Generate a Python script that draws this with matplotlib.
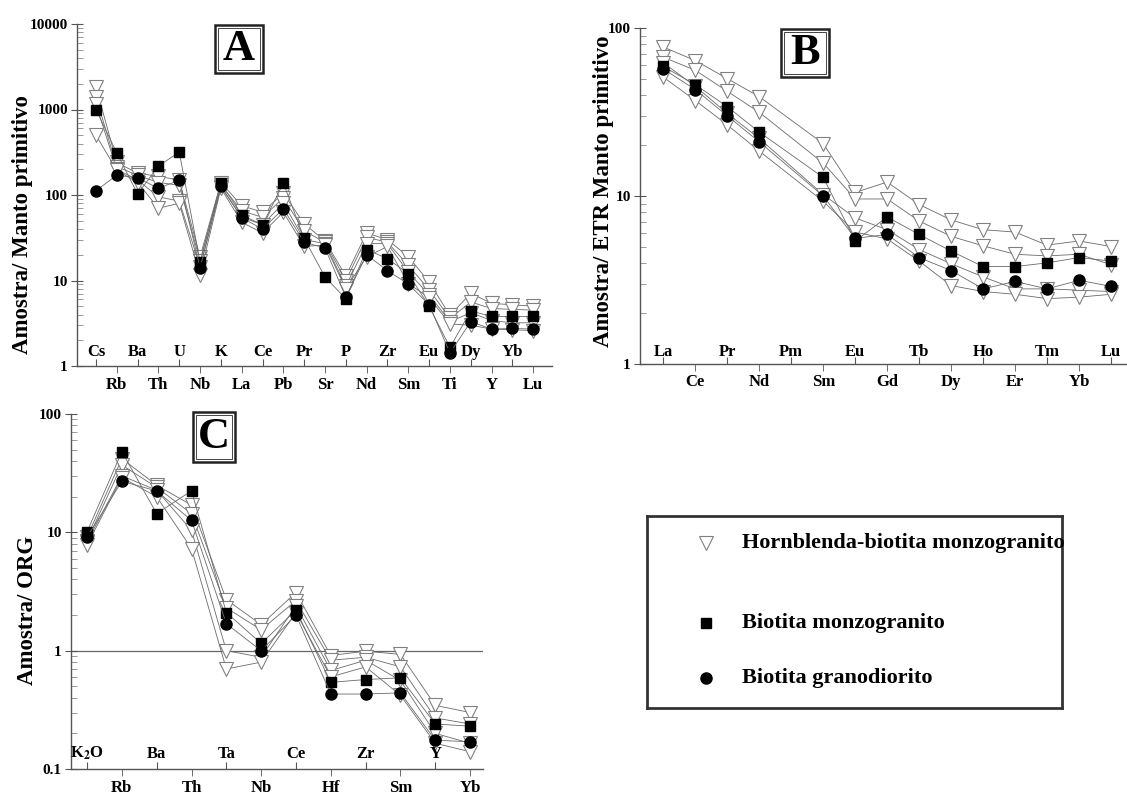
import numpy as np
import matplotlib.pyplot as plt
from matplotlib.ticker import FixedLocator, FixedFormatter, LogLocator, NullFormatter
from matplotlib.patches import Rectangle
from matplotlib.lines import Line2D

plt.rcParams['font.family'] = 'Liberation Serif'
plt.rcParams['font.weight'] = 'bold'
plt.rcParams['mathtext.fontset'] = 'stix'

# panel A - spider diagram normalised to primitive mantle
a_elem = ['Cs', 'Rb', 'Ba', 'Th', 'U', 'Nb', 'K', 'La', 'Ce', 'Pb', 'Pr', 'Sr', 'P', 'Nd',
          'Zr', 'Sm', 'Eu', 'Ti', 'Dy', 'Y', 'Yb', 'Lu']
a_sq = [1000, 310, 103, 218, 318, 16.5, 138, 58, 45, 138, 31, 11, 6.1, 23, 18, 12, 5.0, 1.65, 4.4, 3.8, 3.8, 3.8]
a_ci = [112, 171, 158, 120, 149, 14, 128, 54, 40, 69, 28, 24, 6.4, 20, 13, 9.1, 5.2, 1.42, 3.3, 2.7, 2.75, 2.7]
a_t1 = [1850, 240, 180, 165, 150, 19, 140, 75, 63, 105, 46, 29, 11.3, 36, 30, 19, 9.6, 3.9, 7.1, 5.4, 5.2, 5.0]
a_t2 = [1400, 215, 170, 140, 130, 17, 132, 65, 55, 92, 38, 28, 10, 32, 28, 15, 7.8, 3.6, 5.6, 4.7, 4.6, 4.5]
a_t3 = [1150, 200, 150, 95, 85, 14.5, 125, 55, 45, 80, 30, 27, 8.6, 27, 27, 12.5, 6.8, 3.3, 4.2, 3.4, 3.2, 3.2]
a_t4 = [500, 195, 140, 70, 80, 11.5, 120, 48, 36, 63, 25, 26, 8.0, 19, 25, 9.2, 6.3, 3.1, 3.0, 2.7, 2.65, 2.6]

# panel B - REE (Pm missing)
b_elem = ['La', 'Ce', 'Pr', 'Nd', 'Pm', 'Sm', 'Eu', 'Gd', 'Tb', 'Dy', 'Ho', 'Er', 'Tm', 'Yb', 'Lu']
b_sq = [59, 46, 34, 24, np.nan, 12.9, 5.4, 7.5, 5.9, 4.7, 3.8, 3.8, 4.0, 4.3, 4.1]
b_ci = [57, 43, 30, 21, np.nan, 10, 5.6, 5.9, 4.3, 3.6, 2.8, 3.1, 2.8, 3.15, 2.9]
b_t1 = [77, 64, 50, 39, np.nan, 20.5, 10.5, 12.1, 8.9, 7.2, 6.3, 6.1, 5.1, 5.4, 5.0]
b_t2 = [67, 56, 42, 31.5, np.nan, 15.7, 9.6, 9.6, 7.1, 5.75, 5.05, 4.5, 4.4, 4.5, 3.9]
b_t3 = [62, 45, 31, 22, np.nan, 10.2, 7.4, 6.3, 4.8, 3.95, 3.3, 2.8, 2.8, 2.75, 2.7]
b_t4 = [51, 37, 26.5, 18.5, np.nan, 9.3, 6.1, 5.55, 4.1, 2.93, 2.7, 2.6, 2.45, 2.5, 2.6]

# panel C - ORG normalised
c_elem = [r'K$_{\mathbf{2}}$O', 'Rb', 'Ba', 'Th', 'Ta', 'Nb', 'Ce', 'Hf', 'Zr', 'Sm', 'Y', 'Yb']
c_sq = [10.1, 48, 14.4, 22.4, 2.1, 1.15, 2.2, 0.54, 0.57, 0.59, 0.24, 0.23]
c_ci = [9.1, 27, 22.4, 12.6, 1.69, 1.0, 2.0, 0.43, 0.43, 0.44, 0.175, 0.17]
c_t1 = [9.1, 42, 25, 17, 2.7, 1.66, 3.1, 0.91, 0.99, 0.93, 0.345, 0.30]
c_t2 = [8.5, 37, 24, 14.4, 2.3, 1.5, 2.65, 0.83, 0.88, 0.73, 0.27, 0.24]
c_t3 = [8.3, 30, 22.7, 10.4, 1.0, 0.88, 2.4, 0.68, 0.83, 0.56, 0.20, 0.165]
c_t4 = [7.8, 29, 20, 7.3, 0.70, 0.80, 2.1, 0.60, 0.73, 0.42, 0.165, 0.14]

legend_labels = ['Hornblenda-biotita monzogranito', 'Biotita monzogranito', 'Biotita granodiorito']

W, H = 1127, 797
fig = plt.figure(figsize=(W / 100, H / 100), dpi=100)

LINE = '#6a6a6a'
TRI = dict(marker='v', markersize=10, markerfacecolor='white', markeredgecolor='#808080', markeredgewidth=0.8)
SQ = dict(marker='s', markersize=7.5, markerfacecolor='black', markeredgecolor='black')
CI = dict(marker='o', markersize=8, markerfacecolor='black', markeredgecolor='black')


def px_axes(x0, x1, y0, y1):
    return fig.add_axes([x0 / W, 1 - y1 / H, (x1 - x0) / W, (y1 - y0) / H])


def series(ax, vals, style):
    v = np.array(vals, dtype=float)
    x = np.arange(len(v))
    m = ~np.isnan(v)
    ax.plot(x[m], v[m], color=LINE, lw=0.6, zorder=2, **style)


def setup(ax, elem, xlim, ylim, yticks, ylabels, up, down):
    ax.set_yscale('log')
    ax.set_xlim(*xlim)
    ax.set_ylim(*ylim)
    for s in ['top', 'right']:
        ax.spines[s].set_visible(False)
    for s in ['left', 'bottom']:
        ax.spines[s].set_color('#555555')
        ax.spines[s].set_linewidth(1.0)
    n = len(elem)
    ax.xaxis.set_major_locator(FixedLocator(list(range(0, n, 2))))
    ax.xaxis.set_minor_locator(FixedLocator(list(range(1, n, 2))))
    ax.tick_params(axis='x', which='major', direction='in', length=5, color='#555555', labelbottom=False)
    ax.tick_params(axis='x', which='minor', direction='out', length=5, color='#555555', labelbottom=False)
    ax.yaxis.set_major_locator(FixedLocator(yticks))
    ax.yaxis.set_major_formatter(FixedFormatter(ylabels))
    ax.yaxis.set_minor_locator(LogLocator(base=10, subs=np.arange(2, 10)))
    ax.yaxis.set_minor_formatter(NullFormatter())
    ax.tick_params(axis='y', which='major', direction='inout', length=9, color='#555555',
                   labelsize=11, pad=2)
    ax.tick_params(axis='y', which='minor', direction='in', length=4, color='#888888')
    for i, name in enumerate(elem):
        off = up if i % 2 == 0 else -down
        ax.annotate(name, xy=(i, 0), xycoords=('data', 'axes fraction'), xytext=(0, off),
                    textcoords='offset points', ha='center', va='center', fontsize=12,
                    fontweight='bold')


def panel_letter(x0, x1, y0, y1, letter):
    fig.add_artist(Rectangle((x0 / W, 1 - y1 / H), (x1 - x0) / W, (y1 - y0) / H,
                             transform=fig.transFigure, fill=False, ec='#222222', lw=1.8))
    fig.add_artist(Rectangle(((x0 + 3) / W, 1 - (y1 - 3) / H), (x1 - x0 - 6) / W, (y1 - y0 - 6) / H,
                             transform=fig.transFigure, fill=False, ec='#444444', lw=0.7))
    fig.text((x0 + x1) / 2 / W, 1 - (y0 + y1) / 2 / H, letter, ha='center', va='center',
             fontsize=32, fontweight='bold')


# ---- A ----
axA = px_axes(77, 552, 24, 366)
setup(axA, a_elem, (-0.91, 21.9), (1, 10000), [1, 10, 100, 1000, 10000],
      ['1', '10', '100', '1000', '10000'], 10, 14)
for t in [a_t1, a_t2, a_t3, a_t4]:
    series(axA, t, TRI)
series(axA, a_sq, SQ)
series(axA, a_ci, CI)
fig.text(23 / W, 1 - 225 / H, 'Amostra/ Manto primitivo', rotation=90, ha='center', va='center',
         fontsize=16.5, fontweight='bold')
panel_letter(215, 263, 25, 73, 'A')

# ---- B ----
axB = px_axes(640, 1127, 28, 364)
setup(axB, b_elem, (-0.73, 14.5), (1, 100), [1, 10, 100], ['1', '10', '100'], 9, 13)
for t in [b_t1, b_t2, b_t3, b_t4]:
    series(axB, t, TRI)
series(axB, b_sq, SQ)
series(axB, b_ci, CI)
fig.text(604 / W, 1 - 191 / H, 'Amostra/ ETR Manto primitivo', rotation=90, ha='center', va='center',
         fontsize=16.5, fontweight='bold')
panel_letter(781, 829, 29, 77, 'B')

# ---- C ----
axC = px_axes(71, 483, 414, 769)
setup(axC, c_elem, (-0.46, 11.37), (0.1, 100), [0.1, 1, 10, 100], ['0.1', '1', '10', '100'], 11, 14)
axC.axhline(1, color='#666666', lw=0.9, zorder=1)
for t in [c_t1, c_t2, c_t3, c_t4]:
    series(axC, t, TRI)
series(axC, c_sq, SQ)
series(axC, c_ci, CI)
fig.text(28 / W, 1 - 610 / H, 'Amostra/ ORG', rotation=90, ha='center', va='center',
         fontsize=16.5, fontweight='bold')
panel_letter(193, 235, 412, 462, 'C')

# ---- legend box ----
axL = px_axes(647, 1062, 516, 708)
axL.set_xlim(0, 1)
axL.set_ylim(0, 1)
axL.set_xticks([])
axL.set_yticks([])
for s in axL.spines.values():
    s.set_color('#333333')
    s.set_linewidth(2)
rows = [0.859, 0.443, 0.156]
styles = [TRI, SQ, CI]
for yy, st, lab in zip(rows, styles, legend_labels):
    axL.add_line(Line2D([0.142], [yy], linestyle='none', **st))
    axL.text(0.229, yy, lab, ha='left', va='center', fontsize=16, fontweight='bold')

fig.savefig('out.png', dpi=100)
